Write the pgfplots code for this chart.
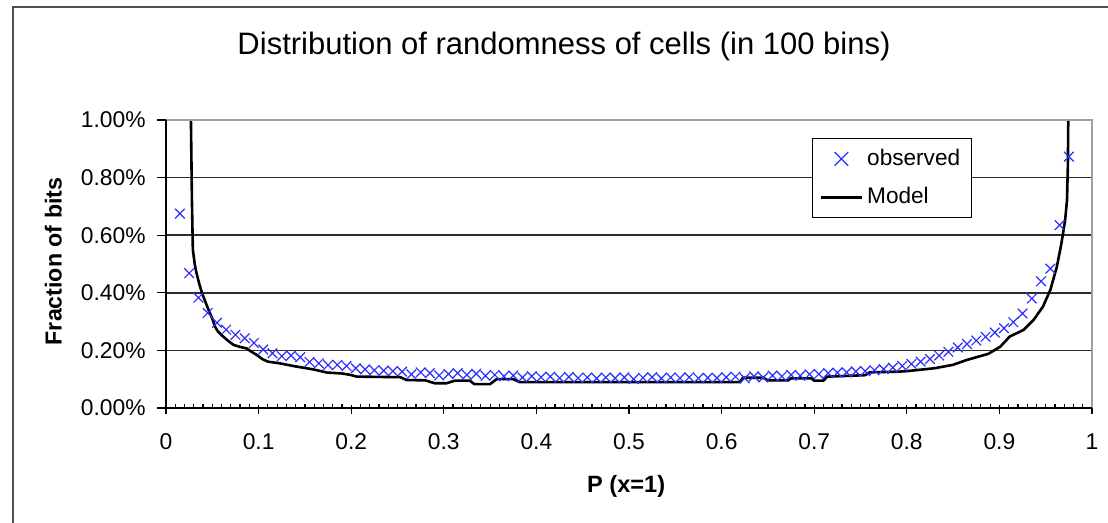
\documentclass[border=0pt]{standalone}
\usepackage{fontspec}
\setmainfont{Liberation Sans}
\usepackage{pgfplots}
\usepackage{pgfplotstable}
\pgfplotsset{compat=1.18}
\definecolor{obsblue}{RGB}{45,45,255}
\definecolor{gridc}{RGB}{45,45,45}
\definecolor{framec}{RGB}{160,160,160}
\definecolor{borderc}{RGB}{80,80,80}

\pgfplotstableread{
x y
0.015 0.675
0.025 0.468
0.035 0.383
0.045 0.330
0.055 0.296
0.065 0.272
0.075 0.254
0.085 0.242
0.095 0.226
0.105 0.203
0.115 0.190
0.125 0.180
0.135 0.182
0.145 0.176
0.155 0.160
0.165 0.155
0.175 0.149
0.185 0.150
0.195 0.146
0.205 0.138
0.215 0.134
0.225 0.131
0.235 0.130
0.245 0.128
0.255 0.126
0.265 0.117
0.275 0.124
0.285 0.121
0.295 0.113
0.305 0.118
0.315 0.121
0.325 0.115
0.335 0.119
0.345 0.112
0.355 0.115
0.365 0.110
0.375 0.113
0.385 0.106
0.395 0.110
0.405 0.107
0.415 0.109
0.425 0.104
0.435 0.108
0.445 0.104
0.455 0.106
0.465 0.103
0.475 0.106
0.485 0.104
0.495 0.106
0.505 0.100
0.515 0.105
0.525 0.107
0.535 0.103
0.545 0.106
0.555 0.104
0.565 0.107
0.575 0.103
0.585 0.105
0.595 0.104
0.605 0.107
0.615 0.109
0.625 0.103
0.635 0.110
0.645 0.106
0.655 0.113
0.665 0.110
0.675 0.115
0.685 0.112
0.695 0.117
0.705 0.118
0.715 0.121
0.725 0.123
0.735 0.124
0.745 0.127
0.755 0.128
0.765 0.131
0.775 0.135
0.785 0.140
0.795 0.146
0.805 0.153
0.815 0.161
0.825 0.170
0.835 0.182
0.845 0.195
0.855 0.210
0.865 0.222
0.875 0.234
0.885 0.247
0.895 0.262
0.905 0.277
0.915 0.298
0.925 0.328
0.935 0.380
0.945 0.440
0.955 0.484
0.965 0.635
0.975 0.873
}\observed

\pgfplotstableread{
x y
0.0255 1.300
0.0270 0.980
0.0280 0.720
0.0290 0.550
0.0310 0.500
0.0330 0.468
0.0360 0.430
0.0390 0.398
0.0430 0.365
0.0460 0.340
0.0500 0.310
0.0530 0.282
0.0560 0.266
0.0600 0.253
0.0660 0.236
0.0730 0.219
0.0800 0.212
0.0870 0.207
0.0920 0.196
0.0980 0.184
0.1040 0.170
0.1100 0.161
0.1230 0.155
0.1370 0.146
0.1480 0.140
0.1590 0.134
0.1740 0.123
0.1900 0.120
0.1990 0.115
0.2060 0.109
0.2530 0.107
0.2600 0.097
0.2800 0.096
0.2900 0.086
0.3030 0.086
0.3120 0.095
0.3280 0.095
0.3330 0.083
0.3500 0.083
0.3570 0.100
0.3750 0.100
0.3820 0.090
0.6200 0.090
0.6230 0.105
0.6450 0.105
0.6500 0.096
0.6720 0.096
0.6750 0.103
0.6970 0.103
0.7000 0.095
0.7100 0.095
0.7140 0.109
0.7400 0.112
0.7550 0.114
0.7600 0.124
0.7900 0.126
0.8000 0.128
0.8300 0.138
0.8500 0.150
0.8650 0.167
0.8880 0.188
0.9010 0.213
0.9110 0.248
0.9260 0.271
0.9370 0.306
0.9470 0.352
0.9550 0.410
0.9620 0.490
0.9670 0.572
0.9710 0.653
0.9730 0.722
0.9740 0.850
0.9750 1.300
}\model

\begin{document}
\begin{tikzpicture}[x=1pt,y=1pt]
\useasboundingbox (0,0) rectangle (554,261.5);
\draw[borderc, line width=1pt] (6.7,0) -- (6.7,258.2) -- (554,258.2);
\node[font=\fontsize{15.5}{18}\selectfont] at (282,238.5) {Distribution of randomness of cells (in 100 bins)};
\begin{axis}[
  at={(83pt,57.5pt)}, anchor=south west,
  width=463pt, height=144pt, scale only axis,
  xmin=0, xmax=1, ymin=0, ymax=1,
  axis line style={draw=none},
  xtick={0,0.1,0.2,0.3,0.4,0.5,0.6,0.7,0.8,0.9,1},
  xticklabels={0,0.1,0.2,0.3,0.4,0.5,0.6,0.7,0.8,0.9,1},
  minor x tick num=9,
  ytick={0,0.2,0.4,0.6,0.8,1},
  yticklabels={0.00\%,0.20\%,0.40\%,0.60\%,0.80\%,1.00\%},
  tick pos=left,
  tick align=inside,
  major tick length=4.5pt,
  minor tick length=2pt,
  tick style={black, line width=0.6pt},
  major x tick style={yshift=-3pt},
  major y tick style={xshift=-4.5pt},
  ymajorgrids,
  grid style={gridc, line width=0.8pt},
  ticklabel style={font=\fontsize{11.4}{13}\selectfont},
  yticklabel style={xshift=-6.7pt},
  xticklabel style={yshift=-9.5pt},
  xlabel={P (x=1)},
  ylabel={Fraction of bits},
  every axis x label/.style={at={(axis description cs:0.497,0)}, anchor=center, yshift=-39pt, font=\fontsize{11.8}{14}\selectfont\bfseries},
  every axis y label/.style={at={(axis description cs:0,0.509)}, anchor=center, xshift=-56.3pt, rotate=90, font=\fontsize{11.6}{14}\selectfont\bfseries},
  legend style={at={(0.6976,0.9375)}, anchor=north west, draw=black, line width=0.6pt, fill=white,
    inner xsep=3.5pt, inner ysep=0.5pt, row sep=0pt,
    nodes={inner xsep=2pt, inner ysep=4.4pt, text height=8.5pt, text depth=2pt, font=\fontsize{11.3}{13}\selectfont}},
  legend cell align=left,
  after end axis/.code={
    \draw[framec, line width=0.8pt] (rel axis cs:0,1) -- (rel axis cs:1,1) -- (rel axis cs:1,0);
    \draw[black, line width=0.8pt] (rel axis cs:0,1) -- (rel axis cs:0,0) -- (rel axis cs:1,0);
  },
]
\addplot[only marks, mark=x, mark size=3.4pt, mark options={obsblue, line width=0.6pt},
  legend image code/.code={\path[draw=none] (0pt,0pt) -- (20.5pt,0pt); \draw[obsblue, line width=0.6pt] (6.85pt,-3.4pt) -- (13.65pt,3.4pt) (6.85pt,3.4pt) -- (13.65pt,-3.4pt);}]
  table[x=x,y=y] {\observed};
\addlegendentry{observed}
\addplot[black, line width=1.3pt, no marks,
  legend image code/.code={\draw[black, line width=1.3pt] (0pt,0pt) -- (20.5pt,0pt);}]
  table[x=x,y=y] {\model};
\addlegendentry{Model}
\end{axis}
\end{tikzpicture}
\end{document}
